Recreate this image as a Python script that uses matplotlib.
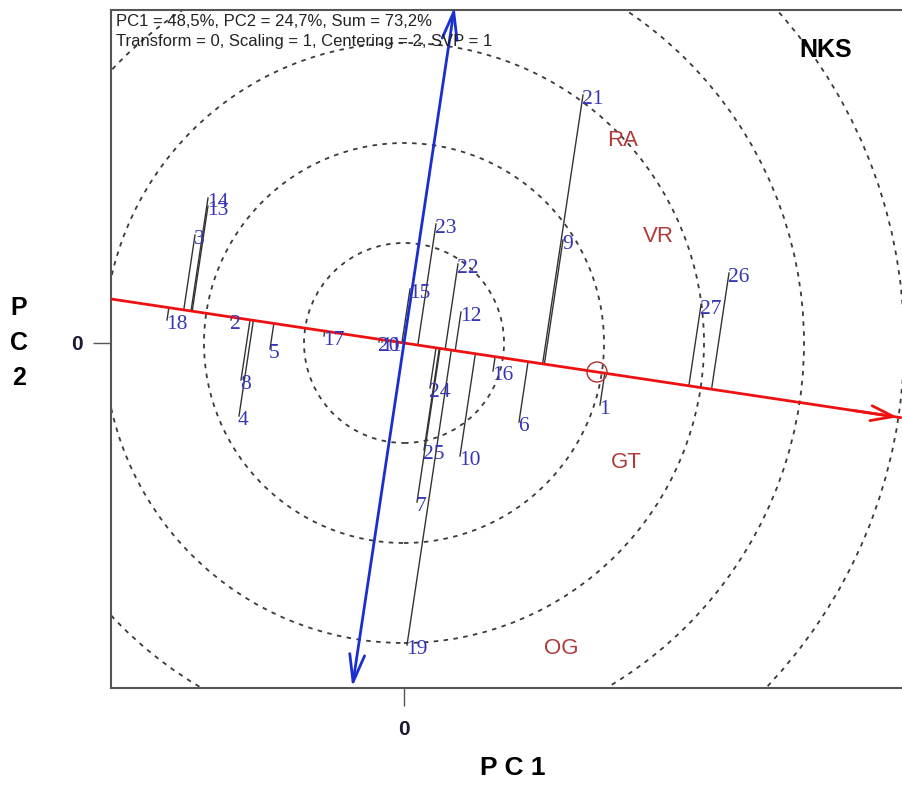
import numpy as np
import matplotlib
matplotlib.use("Agg")
import matplotlib.pyplot as plt
from matplotlib.patches import Circle

# genotype scores (PC1, PC2)
genotypes = [str(i) for i in range(1, 28)]
pc1 = [1.96, -1.73, -2.09, -1.65, -1.34, 1.15, 0.13, -1.63, 1.59, 0.56,
       -0.22, 0.57, -1.96, -1.96, 0.06, 0.89, -0.80, -2.37, 0.03, -0.25,
       1.79, 0.54, 0.32, 0.26, 0.20, 3.25, 2.97]
pc2 = [-0.62, 0.23, 1.08, -0.73, -0.06, -0.79, -1.59, -0.37, 1.03, -1.13,
       0.01, 0.31, 1.37, 1.45, 0.54, -0.28, 0.07, 0.23, -3.02, 0.01,
       2.48, 0.79, 1.19, -0.45, -1.07, 0.70, 0.38]

# environment labels
environments = ["RA", "VR", "GT", "OG"]
env_x = [2.19, 2.54, 2.22, 1.57]
env_y = [2.03, 1.06, -1.20, -3.05]

# average environment
avg_env = (1.93, -0.29)
circle_radii = [1, 2, 3, 4, 5]

W, H = 902, 785
fig = plt.figure(figsize=(W / 100, H / 100), dpi=100)
ax = fig.add_axes([111 / W, 1 - 688 / H, 1 - 111 / W, (688 - 10) / H])
ax.set_xlim(-2.93, 4.98)
ax.set_ylim(-3.45, 3.33)

for r in circle_radii:
    ax.add_patch(Circle((0, 0), r, fill=False, ls=(0, (2.5, 3)), lw=1.3,
                        color="#3a3a3a", zorder=1))

# ATC axes
u = np.array(avg_env) / np.hypot(*avg_env)
v = np.array([-u[1], u[0]])
red_start = u * (-2.93 / u[0]) * 1.05
red_end = u * 5.02
ax.plot([red_start[0], red_end[0]], [red_start[1], red_end[1]],
        color="#ee1111", lw=2, zorder=3)
ax.annotate("", xy=red_end, xytext=red_end - u * 0.5,
            arrowprops=dict(arrowstyle="->,head_length=0.9,head_width=0.3",
                        color="#ee1111", lw=2, mutation_scale=18),
            annotation_clip=False, zorder=3)
blue_top = v * 3.40
blue_bot = -v * 3.48
ax.annotate("", xy=blue_top, xytext=blue_bot,
            arrowprops=dict(arrowstyle="<->,head_length=1.1,head_width=0.3",
                        color="#1a2fd0", lw=2, mutation_scale=18,
                        shrinkA=0, shrinkB=0),
            annotation_clip=False, zorder=3)

ax.add_patch(Circle(avg_env, 0.1, fill=False, color="#b03030", lw=1, zorder=4))

# projection lines for genotypes
for x, y, g in zip(pc1, pc2, genotypes):
    t = x * u[0] + y * u[1]
    ax.plot([x, t * u[0]], [y, t * u[1]], color="#333333", lw=1, zorder=2)
    ax.text(x - 0.01, y + 0.05, g, ha="left", va="top", fontsize=15.5,
            family="Liberation Serif", color="#3535b5", zorder=5)

for x, y, e in zip(env_x, env_y, environments):
    ax.text(x, y, e, ha="center", va="center", fontsize=16,
            family="Liberation Sans", color="#b03a3a", zorder=5)

fig.text(116 / W, 1 - 14 / H, "PC1 = 48,5%, PC2 = 24,7%, Sum = 73,2%\n"
         "Transform = 0, Scaling = 1, Centering = 2, SVP = 1",
         ha="left", va="top", fontsize=12,
         family="Liberation Sans", color="#222222", linespacing=1.4)
fig.text(826 / W, 1 - 50 / H, "NKS", ha="center",
         va="center", fontsize=18, fontweight="bold", family="Liberation Sans")

ax.set_xticks([0])
ax.set_yticks([0])
ax.set_xticklabels(["0"])
ax.set_yticklabels(["0"])
ax.tick_params(length=13, width=1, color="#555555", labelsize=15)
ax.tick_params(axis="x", pad=10)
ax.tick_params(axis="y", pad=7)
for lbl in ax.get_xticklabels() + ax.get_yticklabels():
    lbl.set_fontweight("bold")
    lbl.set_family("Liberation Sans")
    lbl.set_color("#1a1a33")
for s in ["top", "left", "bottom"]:
    ax.spines[s].set_color("#555555")
    ax.spines[s].set_linewidth(1.5)
ax.spines["right"].set_visible(False)

fig.text(513 / W, 1 - 768 / H, "P C 1", ha="center", va="center", fontsize=19,
         fontweight="bold", family="Liberation Sans")
fig.text(19 / W, 1 - 343 / H, "P\nC\n2", ha="center", va="center", fontsize=18,
         fontweight="bold", family="Liberation Sans", linespacing=1.6)

fig.savefig("out.png", dpi=100)
